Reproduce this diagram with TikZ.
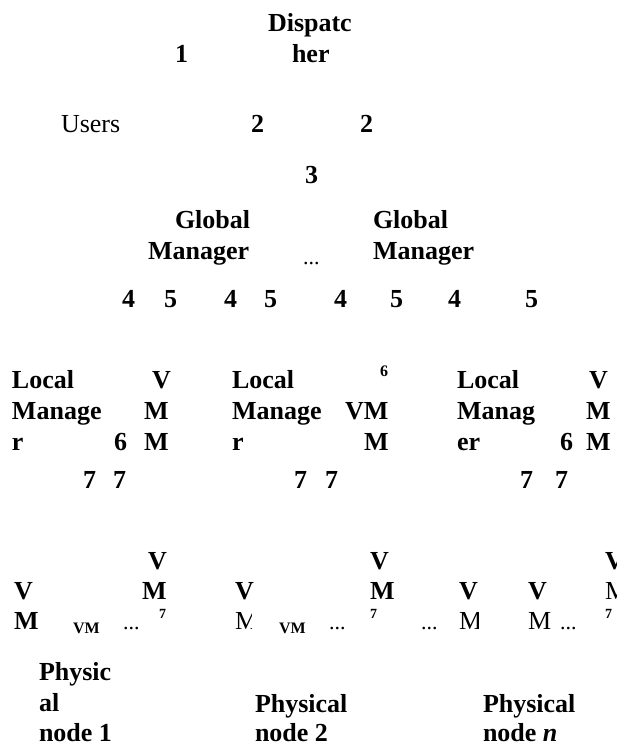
\documentclass[tikz,border=0pt]{standalone}
\usepackage{fontspec}
\setmainfont{Liberation Serif}
\begin{document}
\begin{tikzpicture}[x=1pt,y=1pt,
  lbl/.style={anchor=base west,inner sep=0pt,outer sep=0pt,
    font=\bfseries\fontsize{26}{31}\selectfont},
  reg/.style={lbl,font=\mdseries\fontsize{26}{31}\selectfont},
  dots/.style={lbl,font=\mdseries\fontsize{22}{26}\selectfont},
  smalllbl/.style={lbl,font=\bfseries\fontsize{16}{19}\selectfont},
  tinylbl/.style={lbl,font=\bfseries\fontsize{14}{16}\selectfont}]
\useasboundingbox (0,0) rectangle (620,-746);

% dispatcher and users
\node[lbl] (disp1) at (268,-32) {Dispatc};
\node[lbl] (disp2) at (292,-63) {her};
\node[lbl] (n1) at (175,-63) {1};
\node[reg] (users) at (61,-133) {Users};
\node[lbl] (n2a) at (251,-133) {2};
\node[lbl] (n2b) at (360,-133) {2};
\node[lbl] (n3) at (305,-183) {3};

% global managers
\node[lbl] (gm1a) at (175,-228) {Global};
\node[lbl] (gm1b) at (148,-259) {Manager};
\node[lbl] (gm2a) at (373,-228) {Global};
\node[lbl] (gm2b) at (373,-259) {Manager};
\node[dots] (gmdots) at (303,-264) {...};

% steps 4 and 5
\node[lbl] (s4a) at (122,-307) {4};
\node[lbl] (s5a) at (164,-307) {5};
\node[lbl] (s4b) at (224,-307) {4};
\node[lbl] (s5b) at (264,-307) {5};
\node[lbl] (s4c) at (334,-307) {4};
\node[lbl] (s5c) at (390,-307) {5};
\node[lbl] (s4d) at (448,-307) {4};
\node[lbl] (s5d) at (525,-307) {5};

% local manager 1
\node[lbl] (lm1a) at (12,-388) {Local};
\node[lbl] (lm1b) at (12,-419) {Manage};
\node[lbl] (lm1c) at (12,-450) {r};
\node[lbl] (vmm1a) at (152,-388) {V};
\node[lbl] (vmm1b) at (144,-419) {M};
\node[lbl] (vmm1c) at (144,-450) {M};
\node[lbl] (lm1s6) at (114,-450) {6};
\node[lbl] (lm1s7a) at (83,-488) {7};
\node[lbl] (lm1s7b) at (113,-488) {7};

% local manager 2
\node[lbl] (lm2a) at (232,-388) {Local};
\node[lbl] (lm2b) at (232,-419) {Manage};
\node[lbl] (lm2c) at (232,-450) {r};
\node[smalllbl] (lm2s6) at (380,-376) {6};
\node[lbl] (vmm2a) at (345,-419) {VM};
\node[lbl] (vmm2b) at (364,-450) {M};
\node[lbl] (lm2s7a) at (294,-488) {7};
\node[lbl] (lm2s7b) at (325,-488) {7};

% local manager 3
\node[lbl] (lm3a) at (457,-388) {Local};
\node[lbl] (lm3b) at (457,-419) {Manag};
\node[lbl] (lm3c) at (457,-450) {er};
\node[lbl] (vmm3a) at (589,-388) {V};
\node[lbl] (vmm3b) at (586,-419) {M};
\node[lbl] (vmm3c) at (586,-450) {M};
\node[lbl] (lm3s6) at (560,-450) {6};
\node[lbl] (lm3s7a) at (520,-488) {7};
\node[lbl] (lm3s7b) at (555,-488) {7};

% physical node 1
\node[lbl] (p1va) at (14,-599) {V};
\node[lbl] (p1vb) at (14,-629) {M};
\node[smalllbl] (p1vm) at (73,-633) {VM};
\node[dots] (p1dots) at (123,-629) {...};
\node[lbl] (p1wa) at (148,-569) {V};
\node[lbl] (p1wb) at (142,-599) {M};
\node[tinylbl] (p1s7) at (159,-618) {7};
\node[lbl] (p1a) at (39,-680) {Physic};
\node[lbl] (p1b) at (39,-711) {al};
\node[lbl] (p1c) at (39,-741) {node 1};

% physical node 2
\node[lbl] (p2va) at (235,-599) {V};
\begin{scope}
  \clip (230,-600) rectangle (251,-640);
  \node[reg] (p2vb) at (235,-629) {M};
\end{scope}
\node[smalllbl] (p2vm) at (279,-633) {VM};
\node[dots] (p2dots) at (329,-629) {...};
\node[lbl] (p2wa) at (370,-569) {V};
\node[lbl] (p2wb) at (370,-599) {M};
\node[tinylbl] (p2s7) at (370,-618) {7};
\node[lbl] (p2a) at (255,-712) {Physical};
\node[lbl] (p2b) at (255,-741) {node 2};

% physical node n
\node[dots] (pndotsa) at (421,-629) {...};
\node[lbl] (pnva) at (459,-599) {V};
\begin{scope}
  \clip (454,-600) rectangle (478,-640);
  \node[reg] (pnvb) at (459,-629) {M};
\end{scope}
\node[lbl] (pnua) at (528,-599) {V};
\node[reg] (pnub) at (528,-629) {M};
\node[dots] (pndotsb) at (560,-629) {...};
\begin{scope}
  \clip (600,-540) rectangle (616,-605);
  \node[lbl] (pnwa) at (605,-569) {V};
  \node[reg] (pnwb) at (605,-599) {M};
\end{scope}
\node[tinylbl] (pns7) at (605,-618) {7};
\node[lbl] (pna) at (483,-712) {Physical};
\node[lbl] (pnb) at (483,-741) {node \textit{n}};
\end{tikzpicture}
\end{document}
